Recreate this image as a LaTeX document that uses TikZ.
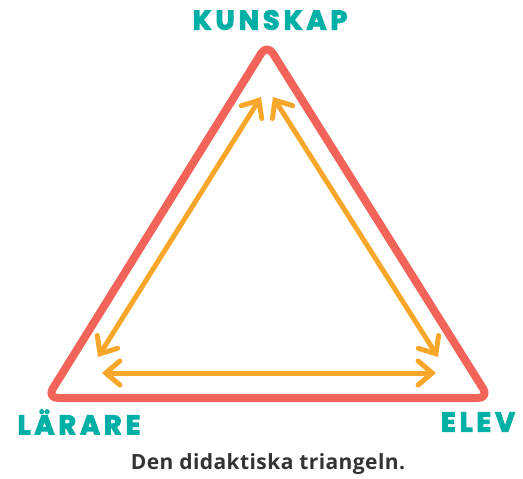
\documentclass[tikz,border=0pt]{standalone}
\usepackage{fontspec}
\setmainfont{Open Sans}
\newfontfamily\labelfont{Poppins}[BoldFeatures={FakeBold=4}, LetterSpace=15]
\usepackage{xcolor}
\usetikzlibrary{arrows.meta, positioning}

\definecolor{redline}{HTML}{F26359}
\definecolor{orangearrow}{HTML}{F9A72B}
\definecolor{tealtext}{HTML}{00B0A6}
\definecolor{captext}{HTML}{333333}

\begin{document}
\begin{tikzpicture}[x=1pt,y=-1pt,
    corner/.style={font=\labelfont\bfseries\fontsize{27}{27}\selectfont,text=tealtext,inner sep=0pt},
    side/.style={line width=8pt,draw=redline,line join=round,rounded corners=11pt},
    rel/.style={line width=5pt,draw=orangearrow,line cap=round,
      {Straight Barb[length=14pt,width=24pt,line cap=round]}-{Straight Barb[length=14pt,width=24pt,line cap=round]}}]
  \useasboundingbox (0,0) rectangle (523,479);
  % corners of the triangle
  \coordinate (top) at (267,44);
  \coordinate (left) at (47,398);
  \coordinate (right) at (489,398);
  \draw[side] (top) -- (right) -- (left) -- cycle;
  % arrow ends
  \coordinate (tl) at (261,97);
  \coordinate (tr) at (273,97);
  \coordinate (ld) at (98,357);
  \coordinate (rd) at (438,357);
  \coordinate (lb) at (102,373);
  \coordinate (rb) at (436,373);
  \draw[rel] (tl) -- (ld);
  \draw[rel] (tr) -- (rd);
  \draw[rel] (lb) -- (rb);
  % labels
  \node[corner] (kunskap) at (270,20) {KUNSKAP};
  \node[corner] (larare) at (79,422) {LÄRARE};
  \node[corner] (elev) at (478,422) {ELEV};
  \node[font=\bfseries\fontsize{21}{21}\selectfont,text=captext] (caption) at (268,464)
    {\addfontfeatures{LetterSpace=2}Den didaktiska triangeln.};
\end{tikzpicture}
\end{document}
